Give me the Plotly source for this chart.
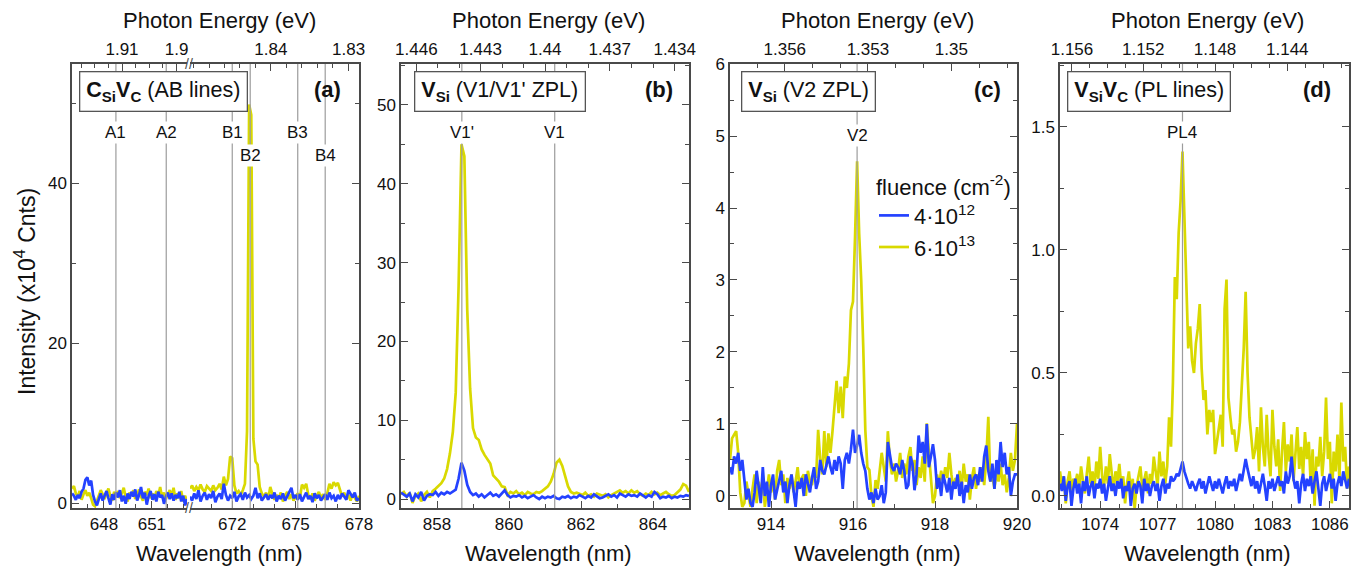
import numpy as np
import plotly.graph_objects as go

W, H = 1370, 570
FONT = "Liberation Sans, Arial, sans-serif"
AX = "#4a4a4a"
BLUE = "#2442ff"
YELLOW = "#d9d900"
GRAY = "#9c9c9c"

# ---------------------------------------------------------------- data
series_names = ["4·10<sup>12</sup>", "6·10<sup>13</sup>"]

# panel (a)  C_Si V_C  -- broken wavelength axis
wl_a_left = (646.0, 653.2)
wl_a_right = (670.0, 678.0)
blue_a_left = [1.2, 0.9, 0.4, 1.0, 0.6, 1.4, 1.8, 2.9, 3.2, 2.2, 2.8, 1.0, 0.2, -0.3, 0.5, 1.2, 0.3, 0.8, 1.5, 0.6,
               -0.2, 1.1, 0.4, 1.3, 0.7, 1.6, 0.2, 0.9, -0.1, 1.2, 0.5, 1.4, 0.8, 1.7, 0.3, 1.0, 2.0, 0.6, 1.3, -0.2,
               0.9, 1.5, 0.4, 1.1, 0.2, 1.4, 0.7, 1.0, -0.1, 0.8, 1.3, 0.5, 1.2, 0.3, 1.0, 0.6, 1.4, 0.2, 0.9, -0.3, 0.5]
yellow_a_left = [1.8, 2.1, 1.2, 0.8, 1.5, 0.4, 1.1, 1.6, 0.9, 1.3, 0.6, -0.2, -0.4, 0.3, 0.9, 1.6, 1.1, 0.5, 1.2, 1.8,
                 0.9, 0.3, 1.4, 0.8, 1.5, 0.6, 1.2, 1.9, 0.7, 0.2, 1.3, 0.9, 1.6, 0.5, 1.1, 1.7, 0.8, 0.3, 1.4, 1.0,
                 1.8, 0.6, 1.2, 0.4, 1.5, 0.9, 2.0, 0.7, 1.3, 0.5, 1.1, 1.6, 0.8, 1.9, 0.4, 1.2, 0.6, 1.5, 0.2, 0.9, 0.3]
blue_a_right = [0.8, 0.3, 1.2, 0.5, 1.6, 0.2, 0.9, 1.3, 0.4, 1.1,
                0.6, 1.5, 0.1, 0.8, 1.2, 0.5, 2.4, 1.0, 0.3, 0.9,
                0.6, 1.4, 0.2, 0.8, 1.1, 0.4, 1.3, 0.7, 1.0, 0.5,
                0.9, 1.9, 0.6, 1.2, 0.3, 0.8, 1.1, 0.4, 1.0, 0.6,
                1.3, 0.2, 0.9, 0.5, 1.2, 0.3, 0.8, 1.4, 1.9, 0.6,
                1.0, 0.4, 1.1, 0.2, 0.7, 1.3, 0.5, 0.9, 0.1, 1.2,
                0.6, 1.0, 0.3, 0.8, 1.1, 0.4, 1.3, 0.6, 0.9, 0.2,
                1.0, 0.5, 1.2, 0.8, 0.4, 1.6, 1.1, 0.7, 1.3, 0.3,
                0.6]
yellow_a_right = [1.8, 2.2, 1.5, 2.0, 1.6, 2.3, 1.7, 1.4, 2.1, 1.8,
                  1.5, 2.2, 1.6, 1.9, 2.4, 1.7, 3.3, 2.2, 3.0, 5.8,
                  5.6, 2.2, 1.2, 1.5, 1.0, 1.6, 2.4, 9.0, 49.8, 48.5,
                  8.0, 5.2, 4.8, 2.0, 1.2, 0.8, 1.3, 0.5, 2.0, 1.1,
                  0.4, 1.0, 0.6, 1.3, 0.2, 0.9, 1.4, 0.5, 1.1, 0.3,
                  0.8, 1.2, 0.6, 2.3, 1.9, 2.4, 1.0, 0.5, 1.2, 0.3,
                  0.9, 1.4, 0.6, 1.1, 0.4, 1.2, 2.4, 1.8, 2.6, 2.2,
                  2.5, 1.6, 0.8, 1.3, 0.5, 1.0, 0.3, 1.1, 0.6, 0.2,
                  0.9]
lines_a = [("A1", 648.75, "l", 0.845), ("A2", 651.9, "l", 0.845), ("B1", 672.0, "r", 0.845),
           ("B2", 672.85, "r", 0.795), ("B3", 675.1, "r", 0.845), ("B4", 676.4, "r", 0.795)]

# panel (b)  V_Si  V1/V1'
wl_b = (857.0, 865.0)
yellow_b = [0.6, 0.9, 0.3, 0.8, -0.5, 0.4, 0.7, -0.3, 0.5, 0.9, 0.2,
            1.0, 1.3, 1.6, 2.0, 2.6, 3.8, 5.8, 8.5, 13.5, 27.0,
            45.0, 43.5, 24.0, 14.0, 9.0, 7.8, 7.5, 6.3, 5.6, 5.0,
            4.5, 3.0, 2.6, 2.2, 1.6, 1.5, 0.5, 0.9, 0.7, 1.0,
            0.6, 0.8, 0.5, 0.9, 0.7, 0.6, 0.9, 0.8, 1.0, 1.3,
            1.6, 2.2, 3.2, 4.6, 5.0, 4.2, 2.8, 1.6, 0.9, 0.7,
            0.8, 0.6, 0.5, 0.8, 0.4, 0.6, 0.3, 0.7, 0.5, 0.4,
            0.6, 0.2, 0.5, 0.7, 0.9, 1.1, 0.8, 1.0, 0.7, 1.1,
            0.8, 1.0, 0.6, 0.4, 0.7, 0.5, 0.9, 0.6, 0.8, 0.5,
            0.7, 0.9, 0.6, 0.4, 0.5, 0.8, 1.2, 1.9, 1.7, 0.9]
blue_b = [0.8, 0.5, 0.3, 0.7, -0.3, 0.6, 0.2, 0.9, -0.2, 0.4, 0.6,
          0.5, 0.9, 0.4, 0.8, 0.6, 0.9, 0.7, 1.0, 1.2, 2.6,
          4.6, 3.6, 1.8, 0.9, 0.5, 0.7, 0.3, 0.6, 0.2, 0.5,
          0.8, 0.4, 0.6, 0.3, 0.7, 1.1, 0.5, 0.2, 0.4, 0.3,
          0.5, 0.2, 0.4, 0.1, 0.3, 0.5, 0.2, 0.0, 0.3, 0.1,
          0.3, 0.2, 0.4, 0.1, 0.0, 0.3, 0.2, 0.4, 0.1, 0.3,
          0.2, 0.5, 0.3, 0.1, 0.4, 0.2, 0.6, 0.3, 0.1, 0.2,
          0.4, 0.6, 0.3, 0.5, 0.2, 0.7, 0.5, 0.3, 0.6, 0.4,
          0.5, 0.3, 0.7, 0.4, 0.2, 0.5, 0.3, 0.9, 0.6, 0.1,
          0.3, 0.2, 0.4, 0.1, 0.3, 0.2, 0.4, 0.3, 0.5, 0.4]
lines_b = [("V1'", 858.69, 0.845), ("V1", 861.27, 0.845)]

# panel (c)  V_Si  V2
wl_c = (913.0, 920.0)
yellow_c = [0.5, 0.8, 0.85, 0.9, 0.6, 0.05, -0.15, -0.1, 0.2, 0.05,
            -0.15, 0.1, 0.3, -0.1, 0.2, 0.0, 0.25, -0.15, 0.1, 0.3,
            0.05, 0.2, -0.05, 0.35, 0.5, 0.15, 0.3, -0.1, 0.25, 0.1,
            0.3, 0.05, 0.2, 0.4, 0.1, 0.25, 0.3, 0.0, 0.35, 0.2,
            0.15, 0.35, 0.25, 0.92, 0.5, 0.3, 0.9, 0.4, 0.87, 0.6,
            0.9, 1.3, 1.6, 1.15, 1.52, 1.08, 1.66, 1.5, 1.84, 2.58,
            2.7, 3.6, 4.65, 3.65, 3.0, 2.07, 0.92, 0.4, 0.36, 0.0,
            -0.15, 0.22, 0.1, 0.35, 0.6, 0.4, 0.2, 0.9, 0.5, 0.3,
            0.45, 0.2, 0.35, 0.6, 0.25, 0.45, 0.3, 0.55, 0.68, 0.35,
            0.5, 0.15, 0.4, 0.25, 0.55, 0.2, 1.01, 0.6, 0.3, -0.1,
            0.0, 0.3, 0.15, 0.35, 0.2, 0.4, 0.25, 0.6, 0.3, 0.1,
            0.25, 0.15, 0.35, 0.1, 0.45, 0.2, 0.3, -0.05, 0.25, 0.4,
            0.1, 0.3, 0.2, 0.4, 0.15, 0.5, 1.1, 0.2, 0.3, 0.1,
            0.35, 0.2, 0.45, 0.15, 0.3, 0.05, 0.25, 0.6, 0.35, 0.5,
            1.0]
blue_c = [0.4, 0.3, 0.55, 0.45, 0.6, 0.35, 0.5, 0.2, -0.05, 0.1,
          -0.1, -0.15, 0.05, 0.35, 0.1, -0.1, 0.4, 0.0, 0.2, -0.15,
          0.15, 0.3, -0.05, 0.1, 0.25, 0.35, 0.05, 0.2, -0.1, 0.15,
          0.3, 0.05, -0.15, 0.2, 0.1, 0.25, 0.0, 0.3, 0.15, 0.05,
          0.25, 0.4, 0.1, 0.2, 0.5, 0.35, 0.3, 0.45, 0.55, 0.4,
          0.3, 0.5, 0.35, 0.55, 0.45, 0.1, 0.5, 0.6, 0.45, 0.65,
          0.92, 0.6, 0.7, 0.85, 0.6, 0.45, 0.35, 0.1, -0.05, 0.05,
          -0.1, 0.1, -0.05, 0.0, 0.15, -0.1, 0.05, 0.75, 0.55, 0.4,
          0.35, 0.45, 0.4, 0.3, 0.5, 0.35, 0.1, 0.15, 0.55, 0.45,
          0.08, 0.3, 0.84, 0.6, 0.75, 0.45, 1.0, 0.4, 0.55, 0.72,
          0.5, 0.1, 0.25, 0.0, 0.3, 0.15, 0.05, 0.25, -0.05, 0.2,
          0.1, 0.3, 0.0, 0.2, -0.1, 0.15, 0.05, 0.3, 0.1, 0.25,
          0.3, 0.15, 0.4, 0.2, 0.55, 0.7, 0.35, 0.2, 0.45, 0.1,
          0.5, 0.3, 0.75, 0.4, 0.6, 0.3, 0.4, 0.0, 0.2, 0.3,
          0.3]
lines_c = [("V2", 916.1, 0.84)]

# panel (d)  V_Si V_C  PL lines
wl_d = (1071.9, 1087.0)
yellow_d = [0.1, 0.04, 0.08, -0.03, 0.06, 0.1, 0.02, 0.07, 0.05, 0.09,
            0.03, 0.12, 0.06, 0.01, 0.09, 0.16, 0.05, 0.1, 0.03, 0.14,
            0.07, 0.2, 0.08, 0.04, 0.12, 0.05, 0.17, 0.09, 0.02, 0.1,
            0.06, 0.13, 0.04, 0.08, -0.03, 0.05, 0.1, 0.02, 0.07, -0.05,
            0.04, 0.08, 0.12, 0.03, 0.06, 0.1, 0.01, 0.09, 0.05, 0.16,
            0.1, 0.04, 0.18, 0.08, 0.14, 0.05, 0.12, 0.32, 0.2, 0.46,
            0.89, 0.8, 1.07, 1.2, 1.4, 1.12, 0.8, 0.6, 0.69, 0.55,
            0.5, 0.62, 0.68, 0.78, 0.52, 0.39, 0.43, 0.25, 0.35, 0.3,
            0.35, 0.17, 0.22, 0.28, 0.33, 0.2, 0.76, 0.88, 0.4, 0.32,
            0.25, 0.27, 0.18, 0.22, 0.3, 0.45, 0.6, 0.83, 0.5, 0.32,
            0.22, 0.15, 0.19, 0.28, 0.1, 0.36, 0.2, 0.12, 0.33, 0.17,
            0.08, 0.35, 0.2, 0.12, 0.23, 0.02, 0.18, 0.3, 0.1, 0.21,
            0.14, 0.25, 0.06, 0.19, 0.28, 0.11, 0.2, 0.08, 0.26, 0.15,
            0.22, 0.05, 0.19, -0.04, 0.16, 0.12, 0.24, 0.08, 0.18, 0.4,
            0.15, 0.22, -0.03, 0.18, 0.1, 0.25, 0.06, 0.38, 0.14, 0.2,
            0.03, 0.12]
blue_d = [0.05, 0.02, 0.08, -0.02, 0.04, 0.06, -0.04, 0.03, 0.07, 0.01,
          0.05, -0.03, 0.06, 0.02, 0.08, 0.0, 0.04, 0.06, -0.01, 0.05,
          0.03, 0.07, 0.01, 0.05, -0.02, 0.04, 0.08, 0.02, 0.05, 0.0,
          0.06, 0.03, 0.07, -0.01, 0.04, 0.02, 0.06, -0.04, 0.03, 0.05,
          0.01, 0.06, 0.04, -0.03, 0.07, 0.02, 0.05, 0.0, 0.04, 0.06,
          0.02, 0.05, -0.02, 0.04, 0.07, 0.01, 0.05, 0.03, 0.08, 0.06,
          0.07, 0.09, 0.08, 0.11, 0.14, 0.1, 0.07, 0.05, 0.03, 0.06,
          0.04, 0.02, 0.05, 0.07, 0.03, 0.06, 0.01, 0.04, 0.08, 0.05,
          0.02, 0.06, 0.03, 0.07, 0.04, 0.01, 0.05, 0.08, 0.03, 0.06,
          0.04, 0.07, 0.02, 0.05, 0.09, 0.06, 0.1, 0.15, 0.11, 0.07,
          0.04, 0.08, 0.03, 0.06, 0.01, 0.05, 0.09, 0.04, -0.02, 0.06,
          0.03, 0.07, 0.02, 0.05, 0.08, 0.04, 0.06, 0.01, 0.1, 0.05,
          0.08, 0.16, 0.07, 0.03, 0.06, -0.03, 0.05, 0.09, 0.02, 0.07,
          0.04, 0.08, 0.01, 0.06, 0.1, 0.03, -0.04, 0.05, 0.08, 0.02,
          0.06, 0.09, 0.03, 0.07, -0.02, 0.05, 0.08, 0.04, 0.1, 0.06,
          0.03, 0.07]
lines_d = [("PL4", 1078.3, 0.845)]

# top-axis energy tick labels (eV)
energy_a_left = ["1.91", "1.9"]
energy_a_right = ["1.84", "1.83"]
energy_b = ["1.446", "1.443", "1.44", "1.437", "1.434"]
energy_c = ["1.356", "1.353", "1.35"]
energy_d = ["1.156", "1.152", "1.148", "1.144"]

HC = 1239.84  # eV*nm

# ---------------------------------------------------------------- helpers
def fx(p):
    return p / W


def fy(p):
    return 1 - p / H


YDOM = [fy(508), fy(64)]
TICKFONT = dict(family=FONT, size=17, color="#111")

base_axis = dict(showline=True, linecolor=AX, linewidth=1.5, ticks="inside", ticklen=7,
                 tickwidth=1.3, tickcolor=AX, tickfont=TICKFONT, showgrid=False,
                 zeroline=False, fixedrange=True, automargin=False)
minor_base = dict(ticks="inside", ticklen=4, tickwidth=1, tickcolor=AX, showgrid=False)


def grid(rng, vals):
    return np.linspace(rng[0], rng[1], len(vals))


def top_axis(overlay, anchor, rng, labels, minor_step):
    e_lo, e_hi = HC / rng[1], HC / rng[0]
    emin = np.arange(np.ceil(e_lo / minor_step) * minor_step, e_hi, minor_step)
    return dict(base_axis, overlaying=overlay, anchor=anchor, side="top", range=list(rng),
                tickmode="array", tickvals=[HC / float(s) for s in labels], ticktext=labels,
                minor=dict(minor_base, tickmode="array", tickvals=list(HC / emin)))


fig = go.Figure()
layout = dict(width=W, height=H, margin=dict(l=0, r=0, t=0, b=0, pad=0),
              paper_bgcolor="white", plot_bgcolor="white", font=dict(family=FONT, color="#111"))
shapes, annotations = [], []

# ---------------- panel a
layout["xaxis"] = dict(base_axis, domain=[fx(72), fx(187)], range=list(wl_a_left), anchor="y",
                       tickmode="linear", tick0=648, dtick=3, minor=dict(minor_base, dtick=1, tick0=646))
layout["xaxis2"] = dict(base_axis, domain=[fx(190), fx(359)], range=list(wl_a_right), anchor="y2",
                        tickmode="linear", tick0=672, dtick=3, minor=dict(minor_base, dtick=1, tick0=670))
layout["xaxis3"] = top_axis("x", "y", wl_a_left, energy_a_left, 0.0025)
layout["xaxis4"] = top_axis("x2", "y2", wl_a_right, energy_a_right, 0.002)
layout["yaxis"] = dict(base_axis, domain=YDOM, range=[-0.625, 54.875], anchor="x", side="left",
                       tickmode="linear", tick0=0, dtick=20, minor=dict(minor_base, dtick=10, tick0=0))
layout["yaxis2"] = dict(base_axis, domain=YDOM, range=[-0.625, 54.875], anchor="x2", side="right",
                        matches="y", showticklabels=False, tickmode="linear", tick0=0, dtick=20,
                        minor=dict(minor_base, dtick=10, tick0=0))

# ---------------- panels b, c, d
panels = [
    ("5", "6", "3", [401, 689], wl_b, energy_b, 0.001, [-1.14, 55.2], 10, 5, 858, 2, 1, None),
    ("7", "8", "4", [730, 1017], wl_c, energy_c, 0.001, [-0.167, 6.0001], 1, 0.5, 914, 2, 1, None),
    ("9", "10", "5", [1060, 1349], wl_d, energy_d, 0.001, [-0.049, 1.756], 0.5, 0.25, 1074, 3, 1, ".1f"),
]
for xb, xt, yn, dom, rng, elab, estep, yr, ydt, ymin, xt0, xdt, xmin, yfmt in panels:
    layout["xaxis" + xb] = dict(base_axis, domain=[fx(dom[0]), fx(dom[1])], range=list(rng), anchor="y" + yn,
                                tickmode="linear", tick0=xt0, dtick=xdt,
                                minor=dict(minor_base, dtick=xmin, tick0=xt0))
    layout["xaxis" + xt] = top_axis("x" + xb, "y" + yn, rng, elab, estep)
    ya = dict(base_axis, domain=YDOM, range=yr, anchor="x" + xb, side="left", mirror="ticks",
              tickmode="linear", tick0=0, dtick=ydt, minor=dict(minor_base, dtick=ymin, tick0=0))
    if yfmt:
        ya["tickformat"] = yfmt
    layout["yaxis" + yn] = ya

# ---------------- traces (yellow below blue)
trace_sets = [
    ("x", "y", wl_a_left, blue_a_left, yellow_a_left, False),
    ("x2", "y2", wl_a_right, blue_a_right, yellow_a_right, False),
    ("x5", "y3", wl_b, blue_b, yellow_b, False),
    ("x7", "y4", wl_c, blue_c, yellow_c, True),
    ("x9", "y5", wl_d, blue_d, yellow_d, False),
]
for xa, ya, rng, blue, yellow, leg in trace_sets:
    fig.add_trace(go.Scatter(x=grid(rng, yellow), y=yellow, mode="lines", xaxis=xa, yaxis=ya,
                             line=dict(color=YELLOW, width=2.7), name=series_names[1], showlegend=leg,
                             hoverinfo="skip"))
    fig.add_trace(go.Scatter(x=grid(rng, blue), y=blue, mode="lines", xaxis=xa, yaxis=ya,
                             line=dict(color=BLUE, width=2.7), name=series_names[0], showlegend=leg,
                             hoverinfo="skip"))

# invisible carriers so that the top (photon-energy) axes are drawn
for xt, yn, rng in [("x3", "y", wl_a_left), ("x4", "y2", wl_a_right), ("x6", "y3", wl_b),
                    ("x8", "y4", wl_c), ("x10", "y5", wl_d)]:
    fig.add_trace(go.Scatter(x=list(rng), y=[None, None], mode="lines", xaxis=xt, yaxis=yn,
                             showlegend=False, hoverinfo="skip", line=dict(width=0)))


# ---------------- reference lines + labels
def ref_line(label, x, xref, yref, ylab):
    shapes.append(dict(type="line", xref=xref, yref=yref + " domain", x0=x, x1=x, y0=0, y1=1,
                       line=dict(color=GRAY, width=1.2), layer="above"))
    annotations.append(dict(text=label, x=x, y=ylab, xref=xref, yref=yref + " domain", showarrow=False,
                            font=dict(family=FONT, size=17, color="#111"), bgcolor="white",
                            xanchor="center", yanchor="middle", borderpad=1))


for lab, x, seg, yl in lines_a:
    if seg == "l":
        ref_line(lab, x, "x", "y", yl)
    else:
        ref_line(lab, x, "x2", "y2", yl)
for lab, x, yl in lines_b:
    ref_line(lab, x, "x5", "y3", yl)
for lab, x, yl in lines_c:
    ref_line(lab, x, "x7", "y4", yl)
for lab, x, yl in lines_d:
    ref_line(lab, x, "x9", "y5", yl)

# ---------------- text: boxes, panel letters, titles
boxes = [
    ("<b>C<sub>Si</sub>V<sub>C</sub></b> (AB lines)", 79, "<b>(a)</b>", 343),
    ("<b>V<sub>Si</sub></b> (V1/V1' ZPL)", 414, "<b>(b)</b>", 675),
    ("<b>V<sub>Si</sub></b> (V2 ZPL)", 741, "<b>(c)</b>", 1003),
    ("<b>V<sub>Si</sub>V<sub>C</sub></b> (PL lines)", 1067, "<b>(d)</b>", 1333),
]
for txt, xl, letter, xr in boxes:
    annotations.append(dict(text=txt, x=fx(xl), y=fy(71), xref="paper", yref="paper", xanchor="left",
                            yanchor="top", showarrow=False, font=dict(family=FONT, size=21.5, color="#111"),
                            bgcolor="white", bordercolor="#555", borderwidth=1.3, borderpad=6))
    annotations.append(dict(text=letter, x=fx(xr), y=fy(89), xref="paper", yref="paper", xanchor="right",
                            yanchor="middle", showarrow=False, font=dict(family=FONT, size=22, color="#111")))

for cx in [219, 548, 877, 1207]:
    annotations.append(dict(text="Photon Energy (eV)", x=fx(cx), y=fy(20), xref="paper", yref="paper",
                            showarrow=False, font=dict(family=FONT, size=22, color="#111"),
                            xanchor="center", yanchor="middle"))
for cx in [219, 548, 877, 1207]:
    annotations.append(dict(text="Wavelength (nm)", x=fx(cx), y=fy(553), xref="paper", yref="paper",
                            showarrow=False, font=dict(family=FONT, size=22, color="#111"),
                            xanchor="center", yanchor="middle"))
annotations.append(dict(text="Intensity (x10<sup>4</sup> Cnts)", x=fx(25), y=fy(292), xref="paper",
                        yref="paper", showarrow=False, textangle=-90,
                        font=dict(family=FONT, size=23, color="#111"), xanchor="center", yanchor="middle"))

# axis-break marks
for yb in [64, 508]:
    annotations.append(dict(text="//", x=fx(188.5), y=fy(yb), xref="paper", yref="paper", showarrow=False,
                            font=dict(family=FONT, size=14, color=AX), xanchor="center", yanchor="middle"))

layout["shapes"] = shapes
layout["annotations"] = annotations
layout["showlegend"] = True
layout["legend"] = dict(x=fx(874), y=fy(166), xanchor="left", yanchor="top", traceorder="reversed",
                        bgcolor="rgba(0,0,0,0)", font=dict(family=FONT, size=22, color="#111"),
                        title=dict(text="fluence (cm<sup>-2</sup>)", font=dict(family=FONT, size=22, color="#111")),
                        tracegroupgap=0, itemwidth=30)
fig.update_layout(**layout)
fig.write_html("out.html", config={"displayModeBar": False},
               post_script="document.body.style.margin='0';document.body.style.overflow='hidden';")
